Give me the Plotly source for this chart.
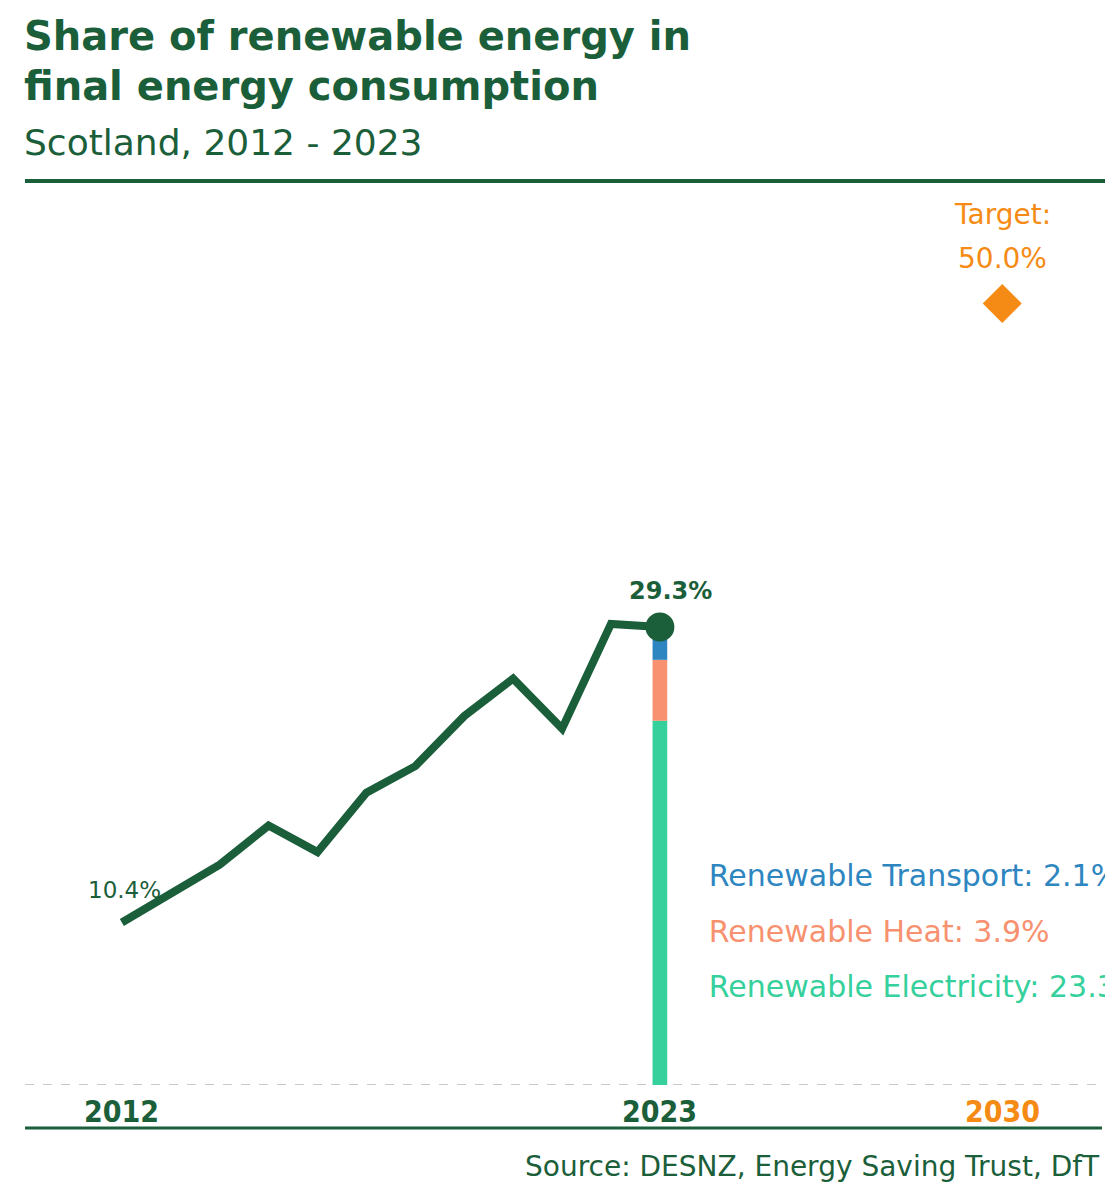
import plotly.graph_objects as go

# ---- data ----
years = [2012, 2013, 2014, 2015, 2016, 2017, 2018, 2019, 2020, 2021, 2022, 2023]
share = [10.4, 12.2, 14.1, 16.6, 14.9, 18.7, 20.4, 23.6, 26.0, 22.8, 29.5, 29.3]

components = ["Renewable Electricity", "Renewable Heat", "Renewable Transport"]
component_values = [23.3, 3.9, 2.1]
component_colors = ["#35d09c", "#f7916f", "#2e86c1"]

target_year = 2030
target_value = 50.0

tick_years = [2012, 2023, 2030]
tick_labels = ["2012", "2023", "2030"]

# ---- style ----
GREEN = "#1b5e3a"
ORANGE = "#f58b14"
FONT = "DejaVu Sans"
TICKFONT = "DejaVu Sans Condensed, Liberation Sans"

OFF = 8  # page body offset
W, H = 1120, 1200
# reference pixel geometry of plot area
PL, PR, PT, PB = 25, 1105, 190, 1085
ML = PL - OFF
MR = W - (PR - OFF)
MT = PT - OFF
MB = H - (PB - OFF)
PLOT_W = W - ML - MR
PLOT_H = H - MT - MB


def py(y_ref):
    """reference pixel y -> paper coordinate"""
    return (PB - y_ref) / PLOT_H


def px(x_ref):
    return (x_ref - PL) / PLOT_W


fig = go.Figure()

# stacked bar for last year
base = 0
for name, val, col in zip(components, component_values, component_colors):
    fig.add_trace(go.Bar(
        x=[years[-1]], y=[val], base=[base], width=0.3,
        marker=dict(color=col, line=dict(width=0)),
        showlegend=False, hoverinfo="skip"))
    base += val

# main line
fig.add_trace(go.Scatter(
    x=years, y=share, mode="lines",
    line=dict(color=GREEN, width=8), showlegend=False, hoverinfo="skip"))

# end marker
fig.add_trace(go.Scatter(
    x=[years[-1]], y=[share[-1]], mode="markers",
    marker=dict(color=GREEN, size=29), showlegend=False, hoverinfo="skip"))

# target diamond
fig.add_trace(go.Scatter(
    x=[target_year], y=[target_value], mode="markers",
    marker=dict(color=ORANGE, symbol="diamond", size=30), showlegend=False,
    hoverinfo="skip"))

# component labels (clipped at plot edge)
label_y = [6.1, 9.6, 13.2]
for name, val, col, ly in zip(components, component_values, component_colors, label_y):
    fig.add_trace(go.Scatter(
        x=[years[-1] + 1], y=[ly], mode="text",
        text=[f"{name}: {val:.1f}%"], textposition="middle right",
        textfont=dict(family=FONT, size=30, color=col),
        cliponaxis=True, showlegend=False, hoverinfo="skip"))

annotations = []

# titles
annotations.append(dict(xref="paper", yref="paper", x=px(22), y=py(36),
                        xanchor="left", yanchor="middle", showarrow=False,
                        text="<b>Share of renewable energy in</b>",
                        font=dict(family=FONT, size=40, color=GREEN)))
annotations.append(dict(xref="paper", yref="paper", x=px(22), y=py(86),
                        xanchor="left", yanchor="middle", showarrow=False,
                        text="<b>final energy consumption</b>",
                        font=dict(family=FONT, size=40, color=GREEN)))
annotations.append(dict(xref="paper", yref="paper", x=px(22), y=py(142),
                        xanchor="left", yanchor="middle", showarrow=False,
                        text="Scotland, 2012 - 2023",
                        font=dict(family=FONT, size=36, color=GREEN)))
annotations.append(dict(xref="paper", yref="paper", x=px(1102), y=py(1166),
                        xanchor="right", yanchor="middle", showarrow=False,
                        text="Source: DESNZ, Energy Saving Trust, DfT",
                        font=dict(family=FONT, size=28, color=GREEN)))

# value labels
annotations.append(dict(x=years[0], y=share[0], xref="x", yref="y",
                        xanchor="center", yanchor="bottom", yshift=17, xshift=3,
                        showarrow=False, text=f"{share[0]:.1f}%",
                        font=dict(family=FONT, size=23, color=GREEN)))
annotations.append(dict(x=years[-1], y=share[-1], xref="x", yref="y",
                        xanchor="center", yanchor="bottom", yshift=20, xshift=11,
                        showarrow=False, text=f"<b>{share[-1]:.1f}%</b>",
                        font=dict(family=FONT, size=24, color=GREEN)))

# target label
annotations.append(dict(x=target_year, y=target_value, xref="x", yref="y",
                        xanchor="center", yanchor="middle", yshift=45,
                        showarrow=False, text=f"{target_value:.1f}%",
                        font=dict(family=FONT, size=28, color=ORANGE)))
annotations.append(dict(x=target_year, y=target_value, xref="x", yref="y",
                        xanchor="center", yanchor="middle", yshift=89,
                        showarrow=False, text="Target:",
                        font=dict(family=FONT, size=28, color=ORANGE)))

# tick labels
for ty, tl in zip(tick_years, tick_labels):
    col = ORANGE if ty == target_year else GREEN
    annotations.append(dict(x=ty, y=py(1111), xref="x", yref="paper",
                            xanchor="center", yanchor="middle", showarrow=False,
                            text=f"<b>{tl}</b>",
                            font=dict(family=TICKFONT, size=30, color=col)))

shapes = [
    dict(type="line", xref="paper", yref="paper", x0=px(25), x1=px(1105),
         y0=py(181), y1=py(181), line=dict(color=GREEN, width=4)),
    dict(type="line", xref="paper", yref="paper", x0=px(25), x1=px(1102),
         y0=py(1128), y1=py(1128), line=dict(color=GREEN, width=3)),
    dict(type="line", xref="paper", yref="y", x0=px(25), x1=px(1100),
         y0=0, y1=0, line=dict(color="#c8c8c8", width=2, dash="dash"), layer="below"),
]

fig.update_layout(
    width=W, height=H,
    margin=dict(l=ML, r=MR, t=MT, b=MB),
    paper_bgcolor="white", plot_bgcolor="white",
    barmode="overlay",
    xaxis=dict(range=[2010.02, 2032.1], showgrid=False, zeroline=False,
               showticklabels=False, showline=False, fixedrange=True),
    yaxis=dict(range=[0, 57.26], showgrid=False, zeroline=False,
               showticklabels=False, showline=False, fixedrange=True),
    annotations=annotations,
    shapes=shapes,
    hovermode=False,
)

fig.write_html("out.html")
